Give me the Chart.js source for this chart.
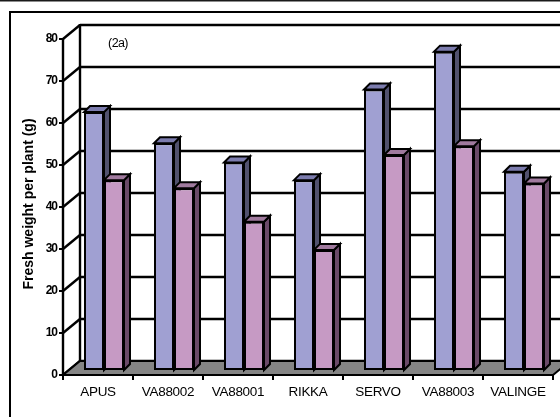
<!DOCTYPE html>
<html>
<head>
<meta charset="utf-8">
<script src="https://cdn.jsdelivr.net/npm/chart.js@4/dist/chart.umd.min.js"></script>
<style>
  html, body { margin: 0; padding: 0; background: #ffffff; }
  canvas { display: block; }
</style>
</head>
<body>
<canvas id="c" width="560" height="417"></canvas>
<script>
// Fresh weight per plant (g) for each cultivar, two treatments
const categories = ['APUS', 'VA88002', 'VA88001', 'RIKKA', 'SERVO', 'VA88003', 'VALINGE'];
const seriesA = [61.4, 54.0, 49.4, 45.2, 66.8, 75.8, 47.2];
const seriesB = [45.2, 43.3, 35.3, 28.6, 51.2, 53.3, 44.4];
const yTicks = [0, 10, 20, 30, 40, 50, 60, 70, 80];
const yTitle = 'Fresh weight per plant (g)';
const panelLabel = '(2a)';

// 3-D look: full depth of the floor, plane of the bar fronts, depth of a bar
const DEPTH = { x: 17, y: -14 };
const BAR_PLANE = { x: 6, y: -5 };
const BAR_DEPTH = { x: 6, y: -6 };

const FONT = '"Liberation Sans", Arial, sans-serif';

const faces = [
  { front: '#a0a0d2', side: '#51516e', top: '#7c7cae' },
  { front: '#c69ac4', side: '#6a4a68', top: '#a07a9e' }
];

function poly(ctx, pts, fill) {
  ctx.beginPath();
  ctx.moveTo(pts[0][0], pts[0][1]);
  for (let i = 1; i < pts.length; i++) ctx.lineTo(pts[i][0], pts[i][1]);
  ctx.closePath();
  if (fill) { ctx.fillStyle = fill; ctx.fill(); }
  ctx.stroke();
}

const box3d = {
  id: 'box3d',
  beforeDraw(chart) {
    const ctx = chart.ctx;
    ctx.save();
    ctx.fillStyle = '#ffffff';
    ctx.fillRect(0, 0, chart.width, chart.height);
    ctx.restore();
  },
  beforeDatasetsDraw(chart) {
    const ctx = chart.ctx;
    const area = chart.chartArea;
    const y = chart.scales.y;
    const x = chart.scales.x;
    ctx.save();
    ctx.strokeStyle = '#000';
    ctx.lineCap = 'butt';
    ctx.lineJoin = 'miter';

    // outer border lines
    ctx.lineWidth = 2;
    ctx.strokeStyle = '#1a1a1a';
    ctx.beginPath(); ctx.moveTo(0, 0.5); ctx.lineTo(chart.width, 0.5); ctx.stroke();
    ctx.strokeStyle = '#000';
    ctx.strokeRect(10, 12, 640, 500);

    // back wall gridlines
    const bl = area.left + DEPTH.x, br = area.right + DEPTH.x;
    ctx.lineWidth = 2.4;
    yTicks.forEach(v => {
      const py = y.getPixelForValue(v) + DEPTH.y;
      ctx.beginPath(); ctx.moveTo(bl, py); ctx.lineTo(br, py); ctx.stroke();
    });
    // back wall left edge
    ctx.beginPath();
    ctx.moveTo(bl, y.getPixelForValue(80) + DEPTH.y - 1);
    ctx.lineTo(bl, y.getPixelForValue(0) + DEPTH.y);
    ctx.stroke();

    // side wall diagonals
    yTicks.forEach(v => {
      const py = y.getPixelForValue(v);
      ctx.beginPath();
      ctx.moveTo(area.left, py);
      ctx.lineTo(area.left + DEPTH.x, py + DEPTH.y);
      ctx.stroke();
    });

    // floor
    const y0 = y.getPixelForValue(0);
    ctx.lineWidth = 2;
    poly(ctx, [
      [area.left, y0], [area.right, y0],
      [area.right + DEPTH.x, y0 + DEPTH.y], [area.left + DEPTH.x, y0 + DEPTH.y]
    ], '#858585');

    // value axis line and ticks
    ctx.lineWidth = 2.4;
    ctx.beginPath();
    ctx.moveTo(area.left, y.getPixelForValue(80) - 1);
    ctx.lineTo(area.left, y0 + 1);
    ctx.stroke();
    ctx.lineWidth = 2;
    yTicks.forEach(v => {
      const py = y.getPixelForValue(v);
      ctx.beginPath(); ctx.moveTo(area.left - 4, py); ctx.lineTo(area.left, py); ctx.stroke();
    });

    // category axis line and ticks
    ctx.lineWidth = 2;
    ctx.beginPath(); ctx.moveTo(area.left, y0); ctx.lineTo(area.right, y0); ctx.stroke();
    const step = (area.right - area.left) / categories.length;
    for (let i = 0; i <= categories.length; i++) {
      const px = area.left + i * step;
      ctx.beginPath(); ctx.moveTo(px, y0); ctx.lineTo(px, y0 + 5); ctx.stroke();
    }

    // text
    ctx.fillStyle = '#000';
    ctx.font = 'bold 12px ' + FONT;
    ctx.letterSpacing = '-1px';
    ctx.textAlign = 'right';
    ctx.textBaseline = 'middle';
    yTicks.forEach(v => {
      ctx.fillText(String(v), area.left - 6, y.getPixelForValue(v));
    });
    ctx.font = '13.5px ' + FONT;
    ctx.letterSpacing = '-0.3px';
    ctx.textAlign = 'center';
    categories.forEach((c, i) => {
      ctx.fillText(c, x.getPixelForValue(i), y0 + 17);
    });
    ctx.font = '12.5px ' + FONT;
    ctx.letterSpacing = '-0.6px';
    ctx.fillText(panelLabel, 118, 44);

    ctx.save();
    ctx.translate(29, 204);
    ctx.rotate(-Math.PI / 2);
    ctx.font = 'bold 14px ' + FONT;
    ctx.letterSpacing = '0px';
    ctx.textAlign = 'center';
    ctx.textBaseline = 'middle';
    ctx.fillText(yTitle, 0, 0);
    ctx.restore();

    // side and top faces of the bars, behind their front faces
    ctx.lineWidth = 2;
    ctx.strokeStyle = '#000';
    chart.data.datasets.forEach((ds, di) => {
      const meta = chart.getDatasetMeta(di);
      meta.data.forEach(bar => {
        const l = bar.x - bar.width / 2 + BAR_PLANE.x;
        const r = bar.x + bar.width / 2 + BAR_PLANE.x;
        const t = bar.y + BAR_PLANE.y;
        const b = bar.base + BAR_PLANE.y;
        poly(ctx, [[r, t], [r + BAR_DEPTH.x, t + BAR_DEPTH.y], [r + BAR_DEPTH.x, b + BAR_DEPTH.y], [r, b]], faces[di].side);
        poly(ctx, [[l, t], [l + BAR_DEPTH.x, t + BAR_DEPTH.y], [r + BAR_DEPTH.x, t + BAR_DEPTH.y], [r, t]], faces[di].top);
      });
    });
    ctx.restore();

    // front faces are drawn by the bar controller in the bar plane
    ctx.save();
    ctx.translate(BAR_PLANE.x, BAR_PLANE.y);
  },
  afterDatasetsDraw(chart) {
    chart.ctx.restore();
  }
};

new Chart(document.getElementById('c'), {
  type: 'bar',
  data: {
    labels: categories,
    datasets: [
      {
        data: seriesA,
        backgroundColor: faces[0].front,
        borderColor: '#000',
        borderWidth: 2,
        borderSkipped: false,
        categoryPercentage: 40 / 70,
        barPercentage: 1,
        clip: false
      },
      {
        data: seriesB,
        backgroundColor: faces[1].front,
        borderColor: '#000',
        borderWidth: 2,
        borderSkipped: false,
        categoryPercentage: 40 / 70,
        barPercentage: 1,
        clip: false
      }
    ]
  },
  options: {
    responsive: false,
    animation: false,
    devicePixelRatio: 1,
    layout: { padding: { left: 63, right: 7, top: 39, bottom: 42 } },
    plugins: { legend: { display: false }, tooltip: { enabled: false } },
    scales: {
      x: { display: false, offset: true },
      y: { display: false, min: 0, max: 80 }
    }
  },
  plugins: [box3d]
});
</script>
</body>
</html>
